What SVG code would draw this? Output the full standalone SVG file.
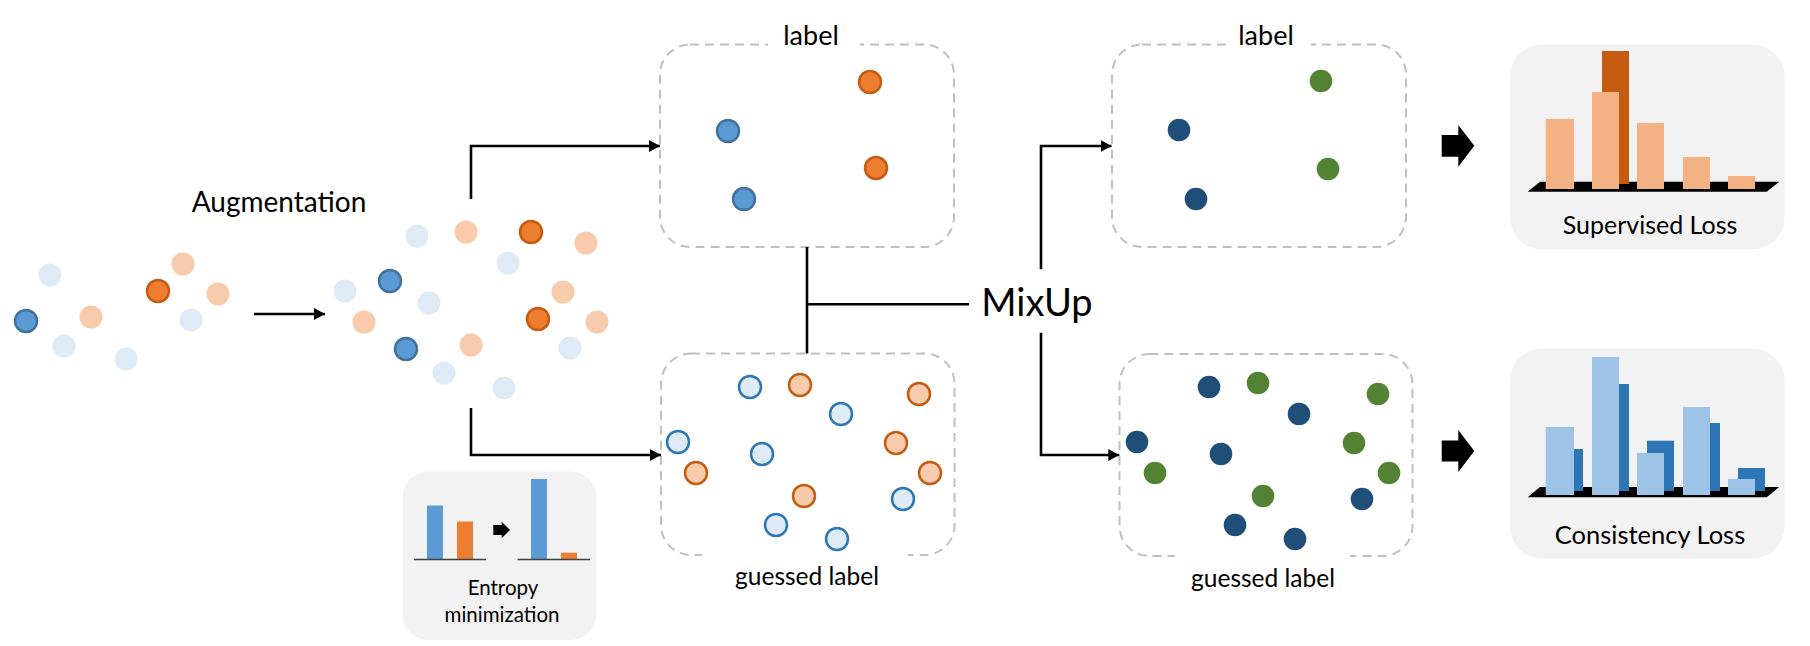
<svg xmlns="http://www.w3.org/2000/svg" width="1810" height="646" viewBox="0 0 1810 646">
<defs>
<style>
.t{font-family:Lato,"Open Sans","Liberation Sans",sans-serif;fill:#000;text-anchor:middle}
.lb{fill:#deebf7}
.lo{fill:#f8cbad}
.db{fill:#5b9bd5;stroke:#41719c;stroke-width:2.5}
.do{fill:#ed7d31;stroke:#c55a11;stroke-width:2.5}
.gb{fill:#deebf7;stroke:#2e75b6;stroke-width:2.5}
.go{fill:#f8cbad;stroke:#c55a11;stroke-width:2.5}
.nv{fill:#1f4e79}
.gr{fill:#548235}
.box{fill:none;stroke:#c0c0c0;stroke-width:2;stroke-dasharray:9 6}
.panel{fill:#f2f2f2}
.conn{fill:none;stroke:#000;stroke-width:2.6}
.blk{fill:#000}
</style>
<marker id="ah" markerUnits="userSpaceOnUse" markerWidth="12" markerHeight="12" refX="11" refY="6" orient="auto">
<path d="M0,0 L11,6 L0,12 Z" fill="#000"/>
</marker>
</defs>
<rect width="1810" height="646" fill="#fff"/>

<g id="source-points">
<circle class="lb" cx="50" cy="275" r="11.5"/>
<circle class="db" cx="26" cy="321" r="11"/>
<circle class="lb" cx="64" cy="346" r="11.5"/>
<circle class="lo" cx="91" cy="317" r="11.5"/>
<circle class="lb" cx="126" cy="359" r="11.5"/>
<circle class="do" cx="158" cy="291" r="11"/>
<circle class="lo" cx="183" cy="264" r="11.5"/>
<circle class="lo" cx="218" cy="294" r="11.5"/>
<circle class="lb" cx="191" cy="320" r="11.5"/>
</g>

<g id="augmented-points">
<circle class="lb" cx="417" cy="236" r="11.5"/>
<circle class="lo" cx="466" cy="232" r="11.5"/>
<circle class="do" cx="531" cy="232" r="11"/>
<circle class="lo" cx="586" cy="243" r="11.5"/>
<circle class="lb" cx="508" cy="263" r="11.5"/>
<circle class="db" cx="390" cy="281" r="11"/>
<circle class="lb" cx="345" cy="291" r="11.5"/>
<circle class="lb" cx="429" cy="303" r="11.5"/>
<circle class="lo" cx="563" cy="292" r="11.5"/>
<circle class="lo" cx="364" cy="322" r="11.5"/>
<circle class="do" cx="538" cy="319" r="11"/>
<circle class="lo" cx="597" cy="322" r="11.5"/>
<circle class="db" cx="406" cy="349" r="11"/>
<circle class="lo" cx="471" cy="345" r="11.5"/>
<circle class="lb" cx="570" cy="348" r="11.5"/>
<circle class="lb" cx="444" cy="373" r="11.5"/>
<circle class="lb" cx="504" cy="388" r="11.5"/>
</g>

<g id="augmentation-label">
<text class="t" x="279" y="212" font-size="28">Augmentation</text>
</g>

<g id="labeled-box">
<rect class="box" x="660" y="44.5" width="294" height="202.5" rx="30"/>
<rect x="768" y="38" width="92" height="14" fill="#fff"/>
<text class="t" x="811" y="45" font-size="27">label</text>
<circle class="db" cx="728" cy="131" r="11"/>
<circle class="do" cx="870" cy="82" r="11"/>
<circle class="do" cx="876" cy="168" r="11"/>
<circle class="db" cx="744" cy="199" r="11"/>
</g>

<g id="guessed-box">
<rect class="box" x="661" y="353.5" width="293.5" height="201.5" rx="30"/>
<rect x="702" y="548" width="206" height="14" fill="#fff"/>
<text class="t" x="807" y="585" font-size="24.5">guessed label</text>
<circle class="gb" cx="750" cy="387" r="11"/>
<circle class="go" cx="800" cy="385" r="11"/>
<circle class="go" cx="919" cy="394" r="11"/>
<circle class="gb" cx="841" cy="414" r="11"/>
<circle class="gb" cx="678" cy="442" r="11"/>
<circle class="go" cx="896" cy="443" r="11"/>
<circle class="gb" cx="762" cy="454" r="11"/>
<circle class="go" cx="696" cy="473" r="11"/>
<circle class="go" cx="930" cy="473" r="11"/>
<circle class="go" cx="804" cy="496" r="11"/>
<circle class="gb" cx="903" cy="499" r="11"/>
<circle class="gb" cx="776" cy="525" r="11"/>
<circle class="gb" cx="837" cy="539" r="11"/>
</g>

<g id="entropy-panel">
<rect class="panel" x="402.5" y="471.5" width="194" height="168.5" rx="26"/>
<rect x="427" y="505.5" width="16" height="54" fill="#5b9bd5"/>
<rect x="457" y="521.5" width="16" height="38" fill="#ed7d31"/>
<line x1="414" y1="559.5" x2="486" y2="559.5" stroke="#404040" stroke-width="1.5"/>
<path class="blk" d="M493.3,525 H501.7 V521.7 L510,530 L501.7,538.3 V535 H493.3 Z"/>
<rect x="531" y="479" width="16" height="80.5" fill="#5b9bd5"/>
<rect x="561" y="552.7" width="16" height="6.8" fill="#ed7d31"/>
<line x1="517.7" y1="559.5" x2="590" y2="559.5" stroke="#404040" stroke-width="1.5"/>
<text class="t" x="503" y="595" font-size="20.5">Entropy</text>
<text class="t" x="502" y="622" font-size="20.5">minimization</text>
</g>

<g id="mixup-label">
<text class="t" x="1037" y="316" font-size="38">MixUp</text>
</g>

<g id="mixed-labeled-box">
<rect class="box" x="1112" y="44.5" width="294" height="202.5" rx="30"/>
<rect x="1232" y="38" width="79" height="14" fill="#fff"/>
<text class="t" x="1266" y="45" font-size="27">label</text>
<circle class="nv" cx="1179" cy="130" r="11.3"/>
<circle class="gr" cx="1321" cy="81" r="11.3"/>
<circle class="gr" cx="1328" cy="169" r="11.3"/>
<circle class="nv" cx="1196" cy="199" r="11.3"/>
</g>

<g id="mixed-guessed-box">
<rect class="box" x="1119.5" y="354" width="293" height="202" rx="30"/>
<rect x="1175" y="549" width="175" height="14" fill="#fff"/>
<text class="t" x="1263" y="587" font-size="24.5">guessed label</text>
<circle class="nv" cx="1209" cy="387" r="11.3"/>
<circle class="gr" cx="1258" cy="383" r="11.3"/>
<circle class="gr" cx="1378" cy="394" r="11.3"/>
<circle class="nv" cx="1299" cy="414" r="11.3"/>
<circle class="nv" cx="1137" cy="442" r="11.3"/>
<circle class="gr" cx="1354" cy="443" r="11.3"/>
<circle class="nv" cx="1221" cy="454" r="11.3"/>
<circle class="gr" cx="1155" cy="473" r="11.3"/>
<circle class="gr" cx="1389" cy="473" r="11.3"/>
<circle class="gr" cx="1263" cy="496" r="11.3"/>
<circle class="nv" cx="1362" cy="499" r="11.3"/>
<circle class="nv" cx="1235" cy="525" r="11.3"/>
<circle class="nv" cx="1295" cy="539" r="11.3"/>
</g>

<g id="supervised-loss">
<rect class="panel" x="1510" y="44.5" width="274.5" height="205" rx="32"/>
<path class="blk" d="M1527.7,191.7 L1540,181.7 H1779.3 L1766.7,191.7 Z"/>
<rect x="1602" y="51" width="27" height="133" fill="#c55a11"/>
<rect x="1545.7" y="119" width="28.3" height="70" fill="#f4b183"/>
<rect x="1592" y="92" width="27" height="97" fill="#f4b183"/>
<rect x="1637" y="123" width="27" height="66" fill="#f4b183"/>
<rect x="1683" y="157" width="27" height="32" fill="#f4b183"/>
<rect x="1728" y="176" width="27" height="13" fill="#f4b183"/>
<text class="t" x="1650" y="234" font-size="25">Supervised Loss</text>
</g>

<g id="consistency-loss">
<rect class="panel" x="1510" y="348.5" width="274.5" height="210" rx="32"/>
<path class="blk" d="M1527.7,497.3 L1540,487 H1779.3 L1766.7,497.3 Z"/>
<rect x="1556" y="449" width="27" height="42" fill="#2e75b6"/>
<rect x="1602" y="384" width="27" height="107" fill="#2e75b6"/>
<rect x="1647" y="440.7" width="27" height="50.3" fill="#2e75b6"/>
<rect x="1693" y="423" width="27" height="68" fill="#2e75b6"/>
<rect x="1738" y="468" width="27" height="23" fill="#2e75b6"/>
<rect x="1545.7" y="427" width="28.3" height="68" fill="#9dc3e6"/>
<rect x="1592" y="357" width="27" height="138" fill="#9dc3e6"/>
<rect x="1637" y="453" width="27" height="42" fill="#9dc3e6"/>
<rect x="1683" y="407" width="27" height="88" fill="#9dc3e6"/>
<rect x="1728" y="479" width="27" height="16" fill="#9dc3e6"/>
<text class="t" x="1650" y="544" font-size="25.5">Consistency Loss</text>
</g>

<g id="connectors">
<line class="conn" x1="254" y1="314" x2="325" y2="314" marker-end="url(#ah)"/>
<path class="conn" d="M471,199 V146 H660" marker-end="url(#ah)"/>
<path class="conn" d="M471,408 V455 H661" marker-end="url(#ah)"/>
<path class="conn" d="M807,247 V353.5 M807,304.3 H969"/>
<path class="conn" d="M1041,269.3 V146 H1111.5" marker-end="url(#ah)"/>
<path class="conn" d="M1041,332.7 V455 H1119.3" marker-end="url(#ah)"/>
<path class="blk" d="M1441.7,135 H1458.3 V125 L1474.3,145.7 L1458.3,166.7 V156.7 H1441.7 Z"/>
<path class="blk" d="M1441.7,440.5 H1458.3 V430 L1474.3,451 L1458.3,472 V461.5 H1441.7 Z"/>
</g>
</svg>
